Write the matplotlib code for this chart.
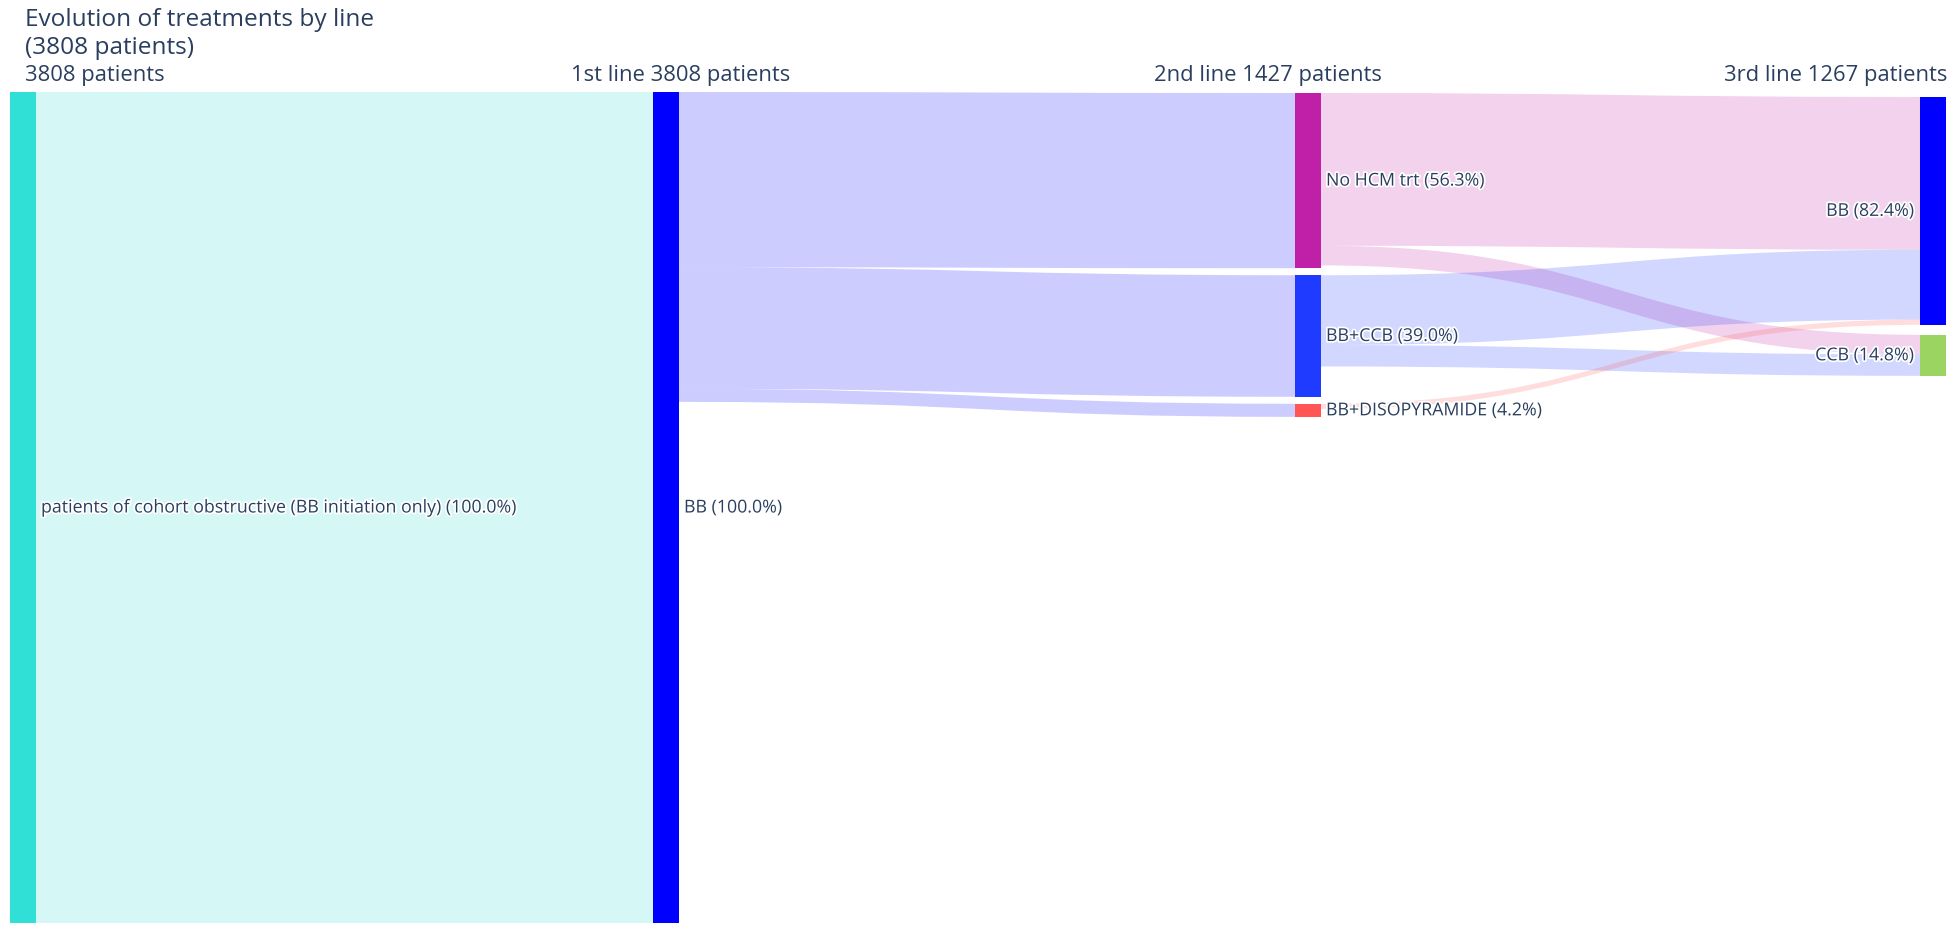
import matplotlib.pyplot as plt
import matplotlib.patheffects as pe
from matplotlib.patches import PathPatch, Rectangle
from matplotlib.path import Path

# data
title = "Evolution of treatments by line\n(3808 patients)"
column_titles = ["3808 patients", "1st line 3808 patients",
                 "2nd line 1427 patients", "3rd line 1267 patients"]

node_labels = ["patients of cohort obstructive (BB initiation only) (100.0%)",
               "BB (100.0%)",
               "No HCM trt (56.3%)", "BB+CCB (39.0%)", "BB+DISOPYRAMIDE (4.2%)",
               "BB (82.4%)", "CCB (14.8%)"]
node_column = [0, 1, 2, 2, 2, 3, 3]
node_counts = [3808, 3808, 803, 557, 60, 1044, 188]
node_colors = ["#30E0D6", "#0000FF", "#C020A8", "#1F3BFF", "#FF5555",
               "#0000FF", "#9CD462"]

link_source = [0, 1, 1, 1, 2, 2, 3, 3, 4]
link_target = [1, 2, 3, 4, 5, 6, 5, 6, 5]
link_value = [3808, 803, 557, 60, 700, 90, 320, 98, 24]

# layout (pixels)
W, H = 1955, 926
col_x = [10, 653, 1295, 1920]
node_w = 26
col_top = [92, 92, 93, 97]
col_pad = [0, 0, 7, 10]
scale = (923 - 92) / 3808.0
text_color = "#2A3F5F"

fig = plt.figure(figsize=(W / 100, H / 100), dpi=100)
ax = fig.add_axes([0, 0, 1, 1])
ax.set_xlim(0, W)
ax.set_ylim(H, 0)
ax.axis("off")

# node positions, stacked per column
node_y0 = []
cursor = {}
for i, c in enumerate(node_column):
    y = cursor.get(c, col_top[c])
    node_y0.append(y)
    cursor[c] = y + node_counts[i] * scale + col_pad[c]
node_x0 = [col_x[c] for c in node_column]

# where each link leaves its source and enters its target
out_off = {i: node_y0[i] for i in range(len(node_labels))}
in_off = dict(out_off)
order_out = sorted(range(len(link_value)), key=lambda j: (link_source[j], node_y0[link_target[j]]))
src_pos = {}
for j in order_out:
    s = link_source[j]
    src_pos[j] = out_off[s]
    out_off[s] += link_value[j] * scale
order_in = sorted(range(len(link_value)), key=lambda j: (link_target[j], node_y0[link_source[j]]))
tgt_pos = {}
for j in order_in:
    t = link_target[j]
    tgt_pos[j] = in_off[t]
    in_off[t] += link_value[j] * scale

for j in range(len(link_value)):
    s, t = link_source[j], link_target[j]
    h = link_value[j] * scale
    x0 = node_x0[s] + node_w
    x1 = node_x0[t]
    xm = (x0 + x1) / 2
    s0, t0 = src_pos[j], tgt_pos[j]
    verts = [(x0, s0), (xm, s0), (xm, t0), (x1, t0),
             (x1, t0 + h), (xm, t0 + h), (xm, s0 + h), (x0, s0 + h), (x0, s0)]
    codes = [Path.MOVETO, Path.CURVE4, Path.CURVE4, Path.CURVE4,
             Path.LINETO, Path.CURVE4, Path.CURVE4, Path.CURVE4, Path.CLOSEPOLY]
    ax.add_patch(PathPatch(Path(verts, codes), facecolor=node_colors[s],
                           alpha=0.2, edgecolor="none", zorder=1))

halo = [pe.withStroke(linewidth=2.5, foreground="white")]
for i, lab in enumerate(node_labels):
    h = node_counts[i] * scale
    ax.add_patch(Rectangle((node_x0[i], node_y0[i]), node_w, h,
                           facecolor=node_colors[i], edgecolor="none", zorder=2))
    yc = node_y0[i] + h / 2
    if node_column[i] == 3:
        ax.text(node_x0[i] - 6, yc, lab, ha="right", va="center", fontsize=12.8,
                color=text_color, family="Open Sans", zorder=3, path_effects=halo)
    else:
        ax.text(node_x0[i] + node_w + 5, yc, lab, ha="left", va="center", fontsize=12.8,
                color=text_color, family="Open Sans", zorder=3, path_effects=halo)

header_x = [25, 681, 1268, 1947]
header_ha = ["left", "center", "center", "right"]
for txt, x, ha in zip(column_titles, header_x, header_ha):
    ax.text(x, 75, txt, ha=ha, va="center", fontsize=15.8, color=text_color,
            family="Open Sans")

ax.text(25, 8, title, ha="left", va="top", fontsize=17.6, color=text_color,
        family="Open Sans", linespacing=1.25)

fig.savefig("out.png", dpi=100)
